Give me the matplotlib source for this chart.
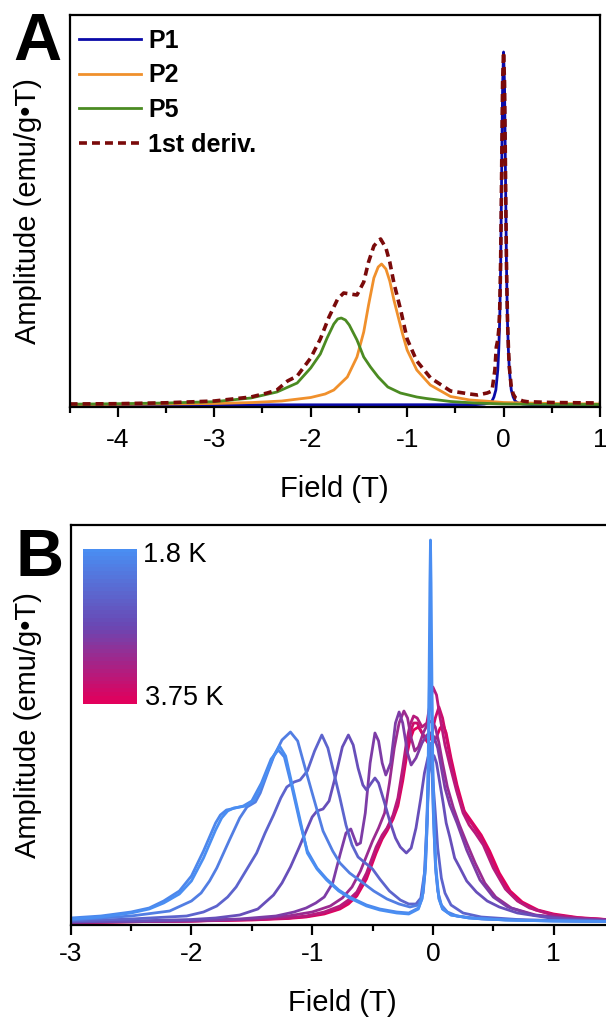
import numpy as np
import matplotlib
matplotlib.use("Agg")
import matplotlib.pyplot as plt
from matplotlib.colors import LinearSegmentedColormap

plt.rcParams['font.family'] = ['Liberation Sans', 'DejaVu Sans']
plt.rcParams['axes.unicode_minus'] = False

# ---- panel A : peak fit of the 1st derivative (field in T, amplitude in arb. units)
p1 = [(-4.5, 0), (-0.3, 0.3), (-0.2, 1), (-0.15, 2), (-0.12, 4), (-0.1, 8), (-0.08, 15),
      (-0.06, 35), (-0.05, 55), (-0.04, 85), (-0.03, 140), (-0.02, 230), (-0.01, 320),
      (0.0, 353), (0.01, 320), (0.02, 230), (0.03, 140), (0.04, 85), (0.05, 55), (0.06, 35),
      (0.08, 15), (0.1, 8), (0.12, 4), (0.15, 2), (0.2, 1), (0.3, 0.3), (1.0, 0)]
p2 = [(-4.5, 0.5), (-4.0, 0.7), (-3.5, 1.0), (-3.0, 1.5), (-2.6, 2.5), (-2.3, 4), (-2.0, 7.5),
      (-1.85, 11), (-1.76, 15), (-1.62, 28), (-1.52, 48), (-1.45, 73), (-1.40, 100),
      (-1.345, 127), (-1.30, 138), (-1.265, 141), (-1.22, 136), (-1.18, 124), (-1.137, 105),
      (-1.05, 72), (-1.0, 55), (-0.9, 35), (-0.76, 20), (-0.55, 8.5), (-0.35, 5), (-0.2, 4),
      (0.0, 2.5), (0.5, 1.5), (1.0, 1)]
p5 = [(-4.5, 0.8), (-4.0, 1.3), (-3.5, 2), (-3.0, 3.3), (-2.62, 7), (-2.35, 13), (-2.14, 22),
      (-2.0, 37), (-1.9, 51), (-1.83, 67), (-1.76, 81), (-1.72, 86), (-1.683, 87), (-1.64, 85),
      (-1.60, 80), (-1.52, 65), (-1.45, 48), (-1.38, 38), (-1.30, 28), (-1.24, 22), (-1.2, 18),
      (-1.07, 12), (-0.9, 8), (-0.8, 6.5), (-0.55, 3.5), (-0.3, 2), (0.0, 1), (0.5, 0.6),
      (1.0, 0.5)]
deriv = [(-4.5, 1), (-4.0, 1.3), (-3.5, 2.2), (-3.0, 4), (-2.62, 8), (-2.45, 12), (-2.35, 15),
         (-2.24, 24), (-2.14, 29), (-2.0, 47), (-1.9, 66), (-1.81, 88), (-1.72, 106),
         (-1.658, 112), (-1.59, 111), (-1.52, 110), (-1.45, 123), (-1.40, 143), (-1.345, 159),
         (-1.30, 164), (-1.275, 166), (-1.22, 157), (-1.18, 143), (-1.137, 122), (-1.067, 95),
         (-1.0, 66), (-0.9, 44), (-0.756, 27), (-0.55, 14), (-0.35, 11), (-0.27, 10),
         (-0.17, 12), (-0.12, 14), (-0.09, 35), (-0.075, 58), (-0.06, 65), (-0.05, 75),
         (-0.04, 95), (-0.03, 145), (-0.02, 232), (-0.01, 322), (0.0, 353), (0.01, 322),
         (0.02, 232), (0.03, 142), (0.04, 88), (0.05, 58), (0.06, 38), (0.08, 18), (0.1, 11),
         (0.124, 7), (0.2, 4), (0.245, 3.3), (0.5, 2.5), (1.0, 2)]

# ---- panel B : 1st derivative vs temperature, 1.8 K (blue) -> 3.75 K (pink)
b01 = [(-3.0, 4), (-2.75, 6), (-2.5, 10), (-2.35, 14), (-2.23, 20), (-2.1, 29), (-2.0, 42),
       (-1.9, 65), (-1.8, 93), (-1.75, 105), (-1.7, 112), (-1.65, 115), (-1.55, 117),
       (-1.48, 123), (-1.40, 143), (-1.32, 167), (-1.27, 177), (-1.22, 167), (-1.16, 135),
       (-1.1, 103), (-1.04, 70), (-0.96, 54), (-0.88, 43), (-0.78, 32), (-0.69, 25),
       (-0.55, 17), (-0.44, 13), (-0.3, 10), (-0.2, 9), (-0.12, 14), (-0.09, 25),
       (-0.065, 55), (-0.05, 100), (-0.04, 155), (-0.035, 200), (-0.03, 270), (-0.025, 340),
       (-0.02, 383), (-0.015, 340), (-0.01, 270), (-0.005, 200), (0.0, 155), (0.01, 100),
       (0.025, 55), (0.05, 25), (0.08, 14), (0.15, 8), (0.3, 5), (0.6, 3), (1.0, 2), (1.5, 1.5)]
b02 = [(-3.0, 5), (-2.75, 7), (-2.5, 11), (-2.35, 15), (-2.23, 22), (-2.1, 32), (-2.0, 47),
       (-1.9, 72), (-1.8, 100), (-1.76, 108), (-1.71, 113), (-1.67, 114), (-1.57, 117),
       (-1.5, 122), (-1.42, 140), (-1.34, 164), (-1.28, 173), (-1.23, 166), (-1.17, 137),
       (-1.1, 100), (-1.04, 72), (-0.96, 55), (-0.88, 44), (-0.78, 33), (-0.69, 26),
       (-0.55, 18), (-0.44, 14), (-0.3, 11), (-0.2, 10), (-0.12, 15), (-0.09, 24),
       (-0.065, 50), (-0.05, 90), (-0.04, 140), (-0.03, 230), (-0.02, 300), (-0.01, 230),
       (0.0, 140), (0.01, 90), (0.025, 50), (0.05, 24), (0.08, 14), (0.15, 8), (0.3, 5),
       (0.6, 3), (1.0, 2), (1.5, 1.5)]
b03 = [(-3.0, 3), (-2.5, 7), (-2.18, 12), (-2.0, 22), (-1.92, 30), (-1.85, 42), (-1.79, 55),
       (-1.685, 83), (-1.6, 105), (-1.54, 116), (-1.47, 121), (-1.43, 130), (-1.37, 150),
       (-1.32, 166), (-1.25, 183), (-1.18, 191), (-1.12, 182), (-1.07, 160), (-1.0, 130),
       (-0.91, 92), (-0.83, 72), (-0.77, 60), (-0.69, 50), (-0.6, 42), (-0.49, 32),
       (-0.38, 24), (-0.28, 19), (-0.19, 16), (-0.12, 18), (-0.08, 30), (-0.06, 60),
       (-0.045, 110), (-0.03, 165), (-0.02, 180), (-0.01, 165), (0.0, 120), (0.02, 60),
       (0.04, 32), (0.07, 18), (0.12, 11), (0.2, 7), (0.4, 4), (0.8, 2.5), (1.5, 1.5)]
b04 = [(-3.0, 2), (-2.5, 4), (-2.04, 7), (-1.9, 11), (-1.79, 17), (-1.7, 26), (-1.63, 36),
       (-1.55, 52), (-1.46, 70), (-1.39, 90), (-1.32, 108), (-1.26, 125), (-1.21, 136),
       (-1.15, 141), (-1.1, 143), (-1.04, 152), (-0.98, 172), (-0.92, 188), (-0.87, 175),
       (-0.82, 150), (-0.77, 125), (-0.72, 98), (-0.67, 78), (-0.62, 66), (-0.56, 60),
       (-0.5, 54), (-0.44, 44), (-0.36, 32), (-0.27, 23), (-0.2, 19), (-0.14, 19), (-0.1, 25),
       (-0.07, 50), (-0.05, 100), (-0.035, 150), (-0.02, 165), (-0.005, 150), (0.02, 110),
       (0.04, 75), (0.07, 45), (0.1, 30), (0.15, 18), (0.25, 10), (0.4, 6), (0.7, 3.5),
       (1.0, 2.5), (1.5, 1.5)]
b05 = [(-3.0, 1), (-2.5, 2), (-2.0, 3.5), (-1.8, 5), (-1.6, 8), (-1.45, 14), (-1.32, 28),
       (-1.25, 40), (-1.18, 56), (-1.11, 75), (-1.05, 92), (-1.0, 106), (-0.96, 112),
       (-0.91, 114), (-0.86, 122), (-0.8, 150), (-0.75, 176), (-0.70, 188), (-0.66, 178),
       (-0.62, 155), (-0.58, 138), (-0.55, 133), (-0.51, 140), (-0.48, 145), (-0.45, 140),
       (-0.40, 120), (-0.36, 103), (-0.31, 85), (-0.27, 76), (-0.22, 70), (-0.18, 75),
       (-0.14, 95), (-0.1, 125), (-0.07, 150), (-0.04, 166), (-0.015, 170), (0.01, 167),
       (0.03, 160), (0.06, 138), (0.085, 120), (0.11, 100), (0.14, 86), (0.18, 65),
       (0.22, 56), (0.28, 42), (0.36, 31), (0.45, 22), (0.55, 16), (0.7, 10), (0.97, 5),
       (1.2, 3), (1.5, 2)]
b06 = [(-3.0, 1), (-2.5, 1.5), (-2.0, 2.5), (-1.6, 4), (-1.3, 7), (-1.15, 11), (-1.05, 15),
       (-0.97, 20), (-0.9, 26), (-0.83, 40), (-0.77, 68), (-0.72, 90), (-0.68, 94),
       (-0.63, 78), (-0.6, 80), (-0.56, 110), (-0.52, 160), (-0.48, 190), (-0.45, 182),
       (-0.42, 160), (-0.39, 148), (-0.35, 160), (-0.31, 200), (-0.28, 211), (-0.25, 200),
       (-0.21, 170), (-0.18, 158), (-0.14, 165), (-0.09, 180), (-0.05, 188), (-0.02, 190),
       (0.01, 186), (0.04, 175), (0.07, 155), (0.1, 135), (0.14, 118), (0.2, 100),
       (0.28, 73), (0.39, 43), (0.5, 26), (0.62, 16), (0.83, 8), (1.1, 4.5), (1.5, 2.5)]
b07 = [(-3.0, 1), (-2.0, 2), (-1.5, 4), (-1.2, 7), (-1.0, 11), (-0.85, 17), (-0.75, 25),
       (-0.67, 36), (-0.6, 52), (-0.55, 67), (-0.5, 82), (-0.45, 95), (-0.4, 110),
       (-0.36, 140), (-0.32, 175), (-0.28, 200), (-0.24, 212), (-0.21, 205), (-0.18, 185),
       (-0.15, 172), (-0.12, 176), (-0.08, 190), (-0.04, 200), (-0.01, 202), (0.02, 196),
       (0.05, 180), (0.08, 160), (0.12, 136), (0.17, 115), (0.22, 98), (0.28, 80),
       (0.35, 60), (0.43, 40), (0.52, 26), (0.65, 15), (0.85, 8), (1.1, 5), (1.5, 2.5)]
b08 = [(-3.0, 0.5), (-2.0, 2), (-1.5, 3.5), (-1.2, 5), (-1.05, 7), (-0.9, 11), (-0.77, 17),
       (-0.7, 23), (-0.63, 31), (-0.55, 50), (-0.47, 76), (-0.42, 88), (-0.38, 95),
       (-0.33, 108), (-0.29, 125), (-0.25, 155), (-0.22, 180), (-0.19, 198), (-0.16, 207),
       (-0.13, 205), (-0.09, 196), (-0.05, 200), (-0.02, 222), (0.0, 236), (0.03, 228),
       (0.06, 205), (0.1, 178), (0.14, 158), (0.196, 132), (0.25, 110), (0.3, 98), (0.35, 90),
       (0.417, 78), (0.5, 55), (0.6, 34), (0.7, 22), (0.8, 15), (1.0, 8), (1.2, 5), (1.5, 3)]
b09 = [(-3.0, 0.5), (-2.0, 2), (-1.5, 3.5), (-1.2, 5), (-1.05, 6.5), (-0.9, 10), (-0.77, 15),
       (-0.7, 21), (-0.63, 29), (-0.55, 47), (-0.47, 73), (-0.42, 86), (-0.38, 94),
       (-0.33, 106), (-0.29, 120), (-0.25, 148), (-0.22, 172), (-0.19, 190), (-0.16, 200),
       (-0.13, 200), (-0.09, 190), (-0.05, 182), (-0.02, 184), (0.02, 205), (0.05, 216),
       (0.08, 205), (0.12, 180), (0.16, 155), (0.21, 128), (0.27, 108), (0.33, 98), (0.4, 85),
       (0.46, 70), (0.53, 50), (0.62, 32), (0.72, 21), (0.85, 13), (1.0, 8), (1.2, 5), (1.5, 3)]
b10 = [(-3.0, 0.5), (-2.0, 2), (-1.5, 3), (-1.2, 4.5), (-1.05, 6), (-0.9, 9), (-0.77, 14),
       (-0.7, 19), (-0.63, 27), (-0.55, 44), (-0.47, 70), (-0.42, 84), (-0.38, 92),
       (-0.33, 104), (-0.29, 117), (-0.25, 142), (-0.22, 165), (-0.19, 183), (-0.16, 193),
       (-0.12, 196), (-0.08, 188), (-0.04, 180), (-0.01, 178), (0.03, 186), (0.06, 195),
       (0.085, 198), (0.11, 190), (0.15, 165), (0.2, 138), (0.26, 112), (0.33, 100), (0.4, 88),
       (0.47, 72), (0.55, 50), (0.64, 32), (0.74, 21), (0.87, 13), (1.0, 9), (1.2, 5.5), (1.5, 3)]
b_curves = [b01, b02, b03, b04, b05, b06, b07, b08, b09, b10]
b_frac = [0.0, 0.05, 0.12, 0.3, 0.45, 0.58, 0.7, 0.82, 0.91, 1.0]
t_labels = ['1.8 K', '3.75 K']

cmap = LinearSegmentedColormap.from_list('bp', ['#4a8ef2', '#6a48b4', '#e2005c'])

fig = plt.figure(figsize=(6.06, 10.21), dpi=100)
W, H = 606.0, 1021.0


def px_axes(l, t, r, b):
    return fig.add_axes([l / W, 1 - b / H, (r - l) / W, (b - t) / H])


def style(ax, pad):
    for s in ax.spines.values():
        s.set_linewidth(1.6)
    ax.set_yticks([])
    ax.tick_params(axis='x', which='major', length=7, width=1.6, labelsize=19, pad=pad)
    ax.tick_params(axis='x', which='minor', length=4, width=1.6)
    ax.set_ylabel('Amplitude (emu/g\u2022T)', fontsize=21)
    ax.set_xlabel('Field (T)', fontsize=21)


# panel A
axA = px_axes(69.6, 15, 600, 407)
for data, col, lab in [(p1, '#0a0aa8', 'P1'), (p2, '#f0902c', 'P2'), (p5, '#4b8b22', 'P5')]:
    xx, yy = np.array(data).T
    axA.plot(xx, yy, color=col, lw=2.0, label=lab)
xx, yy = np.array(deriv).T
axA.plot(xx, yy, color='#7a0a0a', lw=2.6, ls=(0, (2.2, 1.4)), label='1st deriv.')
axA.set_xlim(-4.5, 1)
axA.set_ylim(-2, 390)
axA.set_xticks(np.arange(-4, 1.5, 1))
axA.set_xticks(np.arange(-4.5, 1.01, 0.5), minor=True)
style(axA, 8)
axA.yaxis.set_label_coords(-0.052, 0.5)
axA.xaxis.set_label_coords(0.5, -0.174)
axA.legend(loc='upper left', bbox_to_anchor=(0.018, 0.965), frameon=False, borderaxespad=0,
           borderpad=0, handlelength=2.48, handletextpad=0.28, labelspacing=0.43,
           prop={'weight': 'bold', 'size': 18})

# panel B
axB = px_axes(70.7, 525, 614, 925)
for data, f in reversed(list(zip(b_curves, b_frac))):
    xx, yy = np.array(data).T
    axB.plot(xx, yy, color=cmap(f), lw=2.0)
axB.set_xlim(-3, 1.5)
axB.set_ylim(-2, 398)
axB.set_xticks(np.arange(-3, 1.5, 1))
axB.set_xticks(np.arange(-3, 1.51, 0.5), minor=True)
style(axB, 5)
axB.yaxis.set_label_coords(-0.053, 0.5)
axB.xaxis.set_label_coords(0.5, -0.16)

# colour legend for temperature
cax = px_axes(83, 549, 137, 704)
grad = np.linspace(0, 1, 40).reshape(-1, 1)
cax.imshow(grad, cmap=cmap, aspect='auto', interpolation='nearest')
cax.set_axis_off()
fig.text(143 / W, 1 - 555 / H, t_labels[0], fontsize=19.5, va='center', ha='left')
fig.text(145 / W, 1 - 698 / H, t_labels[1], fontsize=19.5, va='center', ha='left')

fig.text(13 / W, 1 - 60 / H, 'A', fontsize=48, fontweight='bold', va='baseline')
fig.text(15 / W, 1 - 576 / H, 'B', fontsize=48, fontweight='bold', va='baseline')

fig.savefig('out.png', dpi=100)
